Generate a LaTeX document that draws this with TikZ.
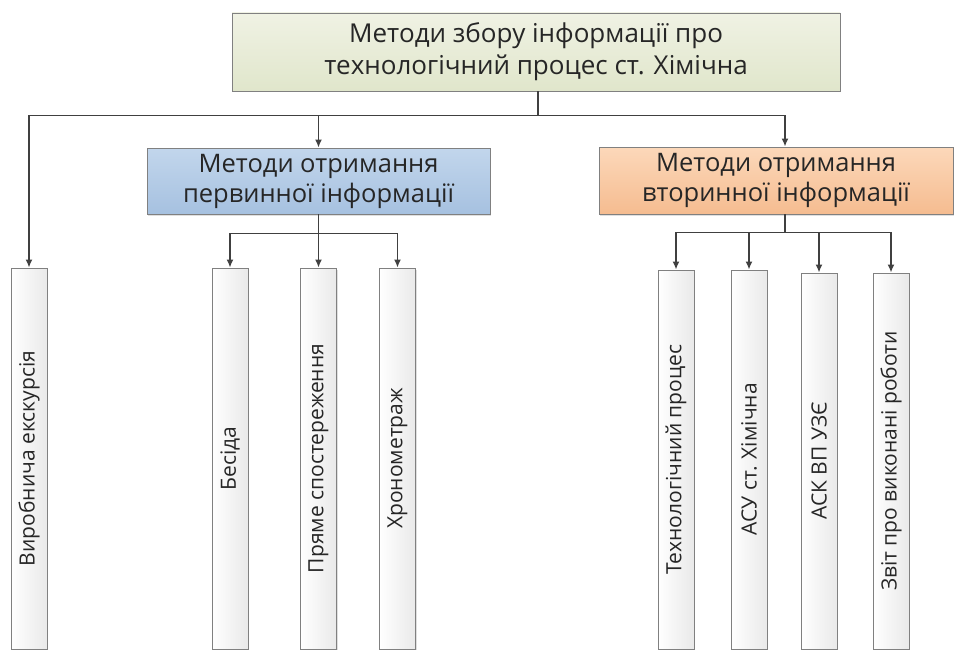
\documentclass[tikz,border=0pt]{standalone}
\usepackage{fontspec}
\setmainfont{Open Sans}
\usetikzlibrary{arrows.meta,shadows}
\definecolor{linec}{HTML}{404040}
\definecolor{txtc}{HTML}{262626}
\definecolor{topA}{HTML}{F0F2E4}
\definecolor{topB}{HTML}{E0E6CB}
\definecolor{primA}{HTML}{C2D6EC}
\definecolor{primB}{HTML}{A6C1E0}
\definecolor{secA}{HTML}{FCD8BA}
\definecolor{secB}{HTML}{F5BC90}
\definecolor{leafB}{HTML}{E9E9E9}
\tikzset{
  box/.style={draw=black!50,line width=0.8pt,text=txtc,align=center,inner sep=2pt,
    drop shadow={shadow xshift=1pt,shadow yshift=-1.5pt,opacity=0.25}},
  leaf/.style={box,left color=white,right color=leafB,minimum width=36pt},
  leaftext/.style={rotate=90,text=txtc,inner sep=0pt,font=\fontsize{21}{24}\selectfont},
}
\begin{document}
\begin{tikzpicture}[x=1pt,y=-1pt,>={Latex[length=8pt,width=7pt]},line width=1.6pt]
\useasboundingbox (0,0) rectangle (958,650);

\node[box,minimum width=608pt,minimum height=78pt,top color=topA,bottom color=topB,font=\fontsize{26}{32}\selectfont] (top) at (536,52) {Методи збору інформації про\\технологічний процес ст. Хімічна};
\node[box,minimum width=343pt,minimum height=66pt,top color=primA,bottom color=primB,font=\fontsize{25.5}{30}\selectfont] (prim) at (318.5,181) {Методи отримання\\первинної інформації};
\node[box,minimum width=354pt,minimum height=67pt,top color=secA,bottom color=secB,font=\fontsize{25.5}{30}\selectfont] (sec) at (776,180.5) {Методи отримання\\вторинної інформації};

\node[leaf,minimum height=381pt] (exc) at (29,458.5) {};
\node[leaf,minimum height=381pt] (bes) at (230,458.5) {};
\node[leaf,minimum height=381pt] (obs) at (318.5,458.5) {};
\node[leaf,minimum height=381pt] (chr) at (397.5,458.5) {};
\node[leaf,minimum height=379pt] (tech) at (676,459.5) {};
\node[leaf,minimum height=379pt] (asu) at (749,459.5) {};
\node[leaf,minimum height=376pt] (ask) at (819,461) {};
\node[leaf,minimum height=376pt] (rep) at (891,461) {};

\node[leaftext] (excT) at (exc) {Виробнича екскурсія};
\node[leaftext] (besT) at (bes) {Бесіда};
\node[leaftext] (obsT) at (obs) {Пряме спостереження};
\node[leaftext] (chrT) at (chr) {Хронометраж};
\node[leaftext] (techT) at (tech) {Технологічний процес};
\node[leaftext] (asuT) at (asu) {АСУ ст. Хімічна};
\node[leaftext] (askT) at (ask) {АСК ВП УЗЄ};
\node[leaftext] (repT) at (rep) {Звіт про виконані роботи};

\begin{scope}[draw=linec]
\draw[->] ([xshift=2pt]top.south) -- ++(0,24) -| (exc.north);
\draw[->] ([xshift=2pt]top.south) -- ++(0,24) -| (prim.north);
\draw[->] ([xshift=2pt]top.south) -- ++(0,24) -| ([xshift=9pt]sec.north);

\draw[->] (prim.south) -- ++(0,19) -| (bes.north);
\draw[->] (prim.south) -- (obs.north);
\draw[->] (prim.south) -- ++(0,19) -| (chr.north);

\draw[->] ([xshift=9pt]sec.south) -- ++(0,18) -| (tech.north);
\draw[->] ([xshift=9pt]sec.south) -- ++(0,18) -| (asu.north);
\draw[->] ([xshift=9pt]sec.south) -- ++(0,18) -| (ask.north);
\draw[->] ([xshift=9pt]sec.south) -- ++(0,18) -| (rep.north);
\end{scope}
\end{tikzpicture}
\end{document}
